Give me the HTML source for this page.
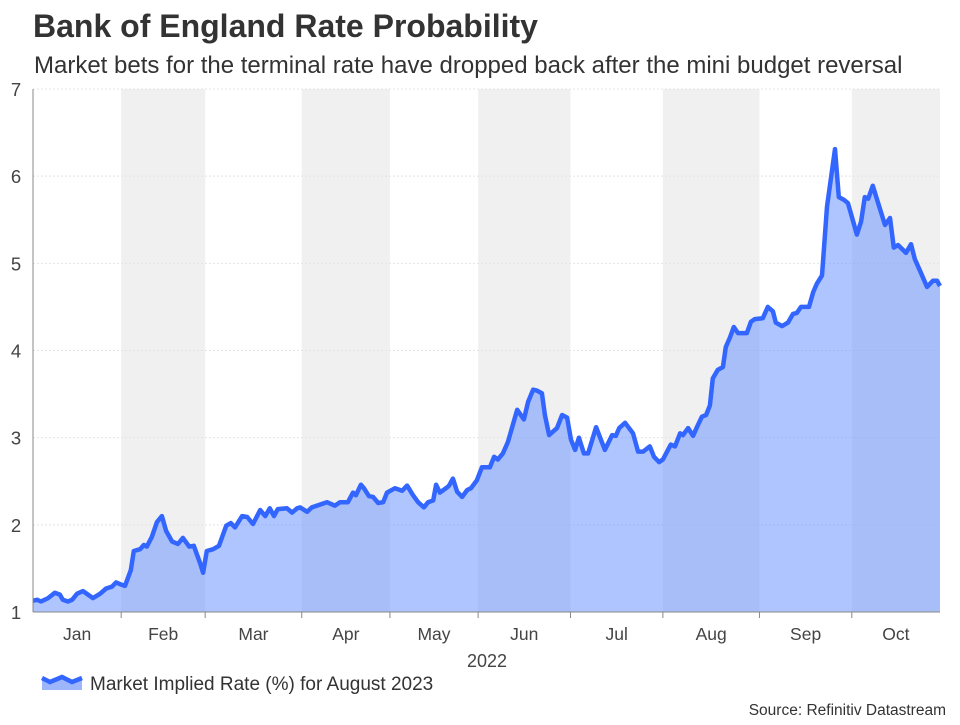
<!DOCTYPE html>
<html><head><meta charset="utf-8"><style>
body{margin:0;background:#fff;font-family:"Liberation Sans",Arial,sans-serif;}
svg text{font-family:"Liberation Sans",Arial,sans-serif;}
</style></head><body>
<svg id="chart" width="960" height="720" xmlns="http://www.w3.org/2000/svg">
<text x="33" y="37" font-size="32" font-weight="bold" fill="#333">Bank of England Rate Probability</text>
<text x="34" y="73" font-size="24" fill="#333">Market bets for the terminal rate have dropped back after the mini budget reversal</text>
<g id="bands"></g><g id="grid"></g><g id="area"></g><g id="axes"></g>
<text x="487" y="667" font-size="18" fill="#444" text-anchor="middle">2022</text>
<g>
<polygon points="42,678 50,682 62,677 72,682 82,678 82,690 42,690" fill="#9db6fb"/>
<polyline points="42,678 50,682 62,677 72,682 82,678" fill="none" stroke="#3366ff" stroke-width="4.5"/>
<text x="90" y="690" font-size="19" fill="#333">Market Implied Rate (%) for August 2023</text>
</g>
<text x="946" y="715" font-size="15.5" fill="#333" text-anchor="end">Source: Refinitiv Datastream</text>
</svg>
<script>
const tradingDay=[0,1,1.9,3.6,5.2,6.4,7.1,8.3,9.3,10.5,11.9,13.1,14.3,16,17.4,18.8,19.8,20.7,21.9,23.3,24,25.5,26.4,27.1,28.3,29.5,30.7,31.7,33.1,34.5,35.7,37.2,38.3,39.8,40.5,41.4,42.9,44.3,46,47.1,48.1,49.8,51,52.4,54.1,55.3,56.4,57.4,58.3,60.5,61.7,62.9,63.6,65.3,66.4,70,71.9,73.1,75,76.2,76.9,78.1,78.8,80,81,82.2,83.4,84.3,86.2,87.9,89.1,90.5,91.7,93.1,94.1,95.3,96,96.9,98.6,99.1,100,101,102.2,103.4,104.3,105.7,106.9,108.8,109.8,110.7,111.9,113.1,115.3,116.9,117.9,119.1,120,121.2,121.9,122.9,124.8,126,127.2,128.1,129.1,130,131.2,132.2,134.1,136.2,137.9,138.8,139.6,141,142.9,144.1,145.3,146.9,147.9,149.1,150,151.9,152.9,154.1,154.8,156,157.2,158.1,159.3,160.3,161.2,161.9,163.1,164.3,165,166,166.9,167.9,170,171,171.9,173.8,175,176.2,176.9,178.4,179.8,181,181.9,182.9,184.8,185.8,186.7,187.9,189.1,191,191.9,193.1,194.1,196.2,197.2,198.1,198.9,200,201.2,202.9,204.1,205,206,207.9,209.1,210,211.2,212.9,214.3,215.3,216];
const rateValues=[1.13,1.14,1.12,1.16,1.22,1.2,1.14,1.12,1.14,1.21,1.24,1.2,1.16,1.21,1.27,1.29,1.34,1.32,1.3,1.48,1.7,1.72,1.77,1.75,1.86,2.03,2.1,1.93,1.81,1.78,1.85,1.75,1.76,1.56,1.45,1.7,1.72,1.76,1.99,2.02,1.97,2.1,2.09,2.01,2.17,2.1,2.19,2.1,2.18,2.19,2.14,2.19,2.2,2.15,2.2,2.26,2.22,2.26,2.26,2.37,2.34,2.46,2.42,2.33,2.32,2.25,2.26,2.37,2.42,2.39,2.45,2.34,2.26,2.2,2.26,2.28,2.46,2.37,2.43,2.45,2.53,2.38,2.32,2.4,2.42,2.51,2.66,2.66,2.78,2.75,2.82,2.95,3.32,3.21,3.41,3.55,3.54,3.51,3.26,3.03,3.11,3.26,3.23,2.98,2.86,3.0,2.82,2.82,3.12,2.86,3.03,3.02,3.11,3.17,3.05,2.84,2.84,2.9,2.78,2.72,2.75,2.92,2.9,3.05,3.03,3.11,3.02,3.12,3.24,3.26,3.37,3.68,3.78,3.81,4.04,4.15,4.27,4.2,4.2,4.33,4.36,4.37,4.5,4.45,4.32,4.28,4.32,4.42,4.43,4.5,4.5,4.67,4.77,4.86,5.65,6.31,5.76,5.73,5.69,5.33,5.48,5.76,5.74,5.89,5.7,5.44,5.52,5.18,5.21,5.12,5.22,5.05,4.92,4.73,4.8,4.8,4.74];
const monthNames=["Jan","Feb","Mar","Apr","May","Jun","Jul","Aug","Sep","Oct"];
const monthStarts=[0,21,41,64,85,106,128,150,173,195,216];
const yTicks=[1,2,3,4,5,6,7];
const X0=33,X1=940,Y0=612,Y1=89,DMAX=216,VMIN=1,VMAX=7;
const xs=d=>X0+(d/DMAX)*(X1-X0);
const ys=v=>Y0-(v-VMIN)/(VMAX-VMIN)*(Y0-Y1);
const NS="http://www.w3.org/2000/svg";
function mk(tag,attrs,parent){const e=document.createElementNS(NS,tag);for(const k in attrs)e.setAttribute(k,attrs[k]);parent.appendChild(e);return e;}
const bands=document.getElementById('bands'),grid=document.getElementById('grid'),area=document.getElementById('area'),axes=document.getElementById('axes');
for(let i=0;i<monthNames.length;i++){
  if(i%2===1){const r=mk('rect',{x:xs(monthStarts[i]),y:Y1,width:xs(monthStarts[i+1])-xs(monthStarts[i]),height:Y0-Y1,fill:'#f0f0f0'},bands);
  
  }
  const t=mk('text',{x:(xs(monthStarts[i])+xs(monthStarts[i+1]))/2,y:640,'font-size':17.5,fill:'#444','text-anchor':'middle'},axes);
  t.textContent=monthNames[i];
  
  
  if(i>0){const tk=mk('line',{x1:xs(monthStarts[i]),x2:xs(monthStarts[i]),y1:Y0,y2:Y0+6,stroke:'#888'},axes);
  
  }
}
yTicks.forEach(v=>{
  if(v>VMIN){const g=mk('line',{x1:X0,x2:X1,y1:ys(v),y2:ys(v),stroke:'#e4e4e4','stroke-dasharray':'2,2'},grid);
  
  }
  const t=mk('text',{x:16,y:ys(v)+7,'font-size':18.5,fill:'#444','text-anchor':'middle'},axes);
  t.textContent=v;
  
  
});
let pts=tradingDay.map((d,i)=>xs(d).toFixed(1)+','+ys(rateValues[i]).toFixed(1));
const poly=mk('polygon',{points:pts.join(' ')+' '+xs(tradingDay[tradingDay.length-1])+','+Y0+' '+xs(tradingDay[0])+','+Y0,fill:'#5f8bff','fill-opacity':0.5},area);


const line=mk('polyline',{points:pts.join(' '),fill:'none',stroke:'#3366ff','stroke-width':4.5,'stroke-linejoin':'round'},area);


const ya=mk('line',{x1:X0,x2:X0,y1:Y1,y2:Y0,stroke:'#888'},axes);


const xa=mk('line',{x1:X0,x2:X1,y1:Y0,y2:Y0,stroke:'#888'},axes);


</script>
</body></html>
